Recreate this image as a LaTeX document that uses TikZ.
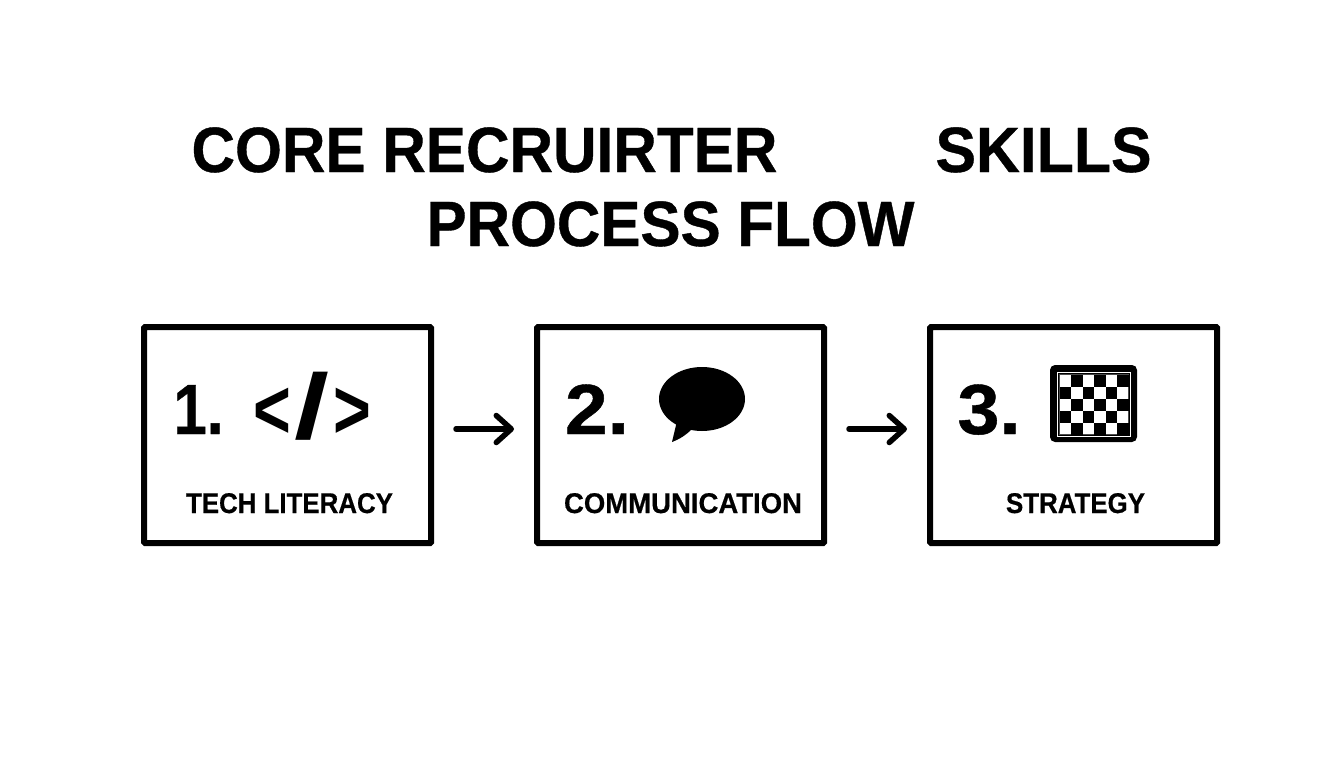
\documentclass[tikz,border=0pt]{standalone}
\usepackage{graphicx}
\usepackage{fontspec}
\setmainfont{Liberation Sans}
\newfontfamily\heavy[FakeBold=0.6]{Liberation Sans Bold}
\usetikzlibrary{arrows.meta}
\newcommand\fitw[2]{\resizebox{#1pt}{\height}{#2}}
\tikzset{
  x=1pt,y=-1pt,
  card/.style={draw=black,line width=6pt,minimum width=287pt,minimum height=216pt,inner sep=0pt,outer sep=0pt,rounded corners=1pt},
  titletext/.style={inner sep=0pt,font=\fontsize{64}{70}\selectfont\heavy,anchor=base,text=black},
  numtext/.style={inner sep=0pt,font=\fontsize{71}{75}\selectfont\heavy,anchor=base,text=black},
  labeltext/.style={inner sep=0pt,font=\fontsize{28.5}{32}\selectfont\heavy,anchor=base,text=black},
  flow/.style={line width=5.5pt,line cap=round,-{Straight Barb[length=15pt,width=27pt,round,line width=5.5pt]},shorten <=25pt,shorten >=23pt},
}
\begin{document}
\begin{tikzpicture}
\useasboundingbox (0,0) rectangle (1344,768);
\fill[white] (0,0) rectangle (1344,768);
\node[titletext] (t1) at (484.5,172) {\fitw{586}{CORE RECRUIRTER}};
\node[titletext] (t2) at (1043.5,172) {\fitw{216}{SKILLS}};
\node[titletext] (t3) at (670.5,246) {\fitw{488}{PROCESS FLOW}};

\node[card] (box1) at (287.5,435) {};
\node[card] (box2) at (680.5,435) {};
\node[card] (box3) at (1073.5,435) {};

\node[numtext] (n1) at (198.5,434) {\fitw{50}{1.}};
\node[numtext] (n2) at (597,434) {\fitw{64}{2.}};
\node[numtext] (n3) at (989,434) {\fitw{63}{3.}};

\node[inner sep=0pt,anchor=base,text=black,font=\fontsize{84}{90}\selectfont\bfseries] (code) at (312.4,438)
  {\scalebox{.77}[1]{<}\kern4pt\raisebox{-.5pt}{\scalebox{1.5}[1.09]{/}}\kern4pt\scalebox{.77}[1]{>}};

\node[labeltext] (l1) at (289.5,513) {\fitw{207}{TECH LITERACY}};
\node[labeltext] (l2) at (683,513) {\fitw{238}{COMMUNICATION}};
\node[labeltext] (l3) at (1075.5,513) {\fitw{139}{STRATEGY}};

\draw[flow] ([yshift=6pt]box1.east) -- ([yshift=6pt]box2.west);
\draw[flow] ([yshift=6pt]box2.east) -- ([yshift=6pt]box3.west);

% speech bubble
\fill[black] (702,399) ellipse [x radius=43,y radius=32];
\fill[black] (677,421) -- (672,442) .. controls (680,439) and (686,435) .. (692,429) -- cycle;

% chess board
\fill[black,rounded corners=5pt] (1050,365) rectangle (1137,442);
\draw[white,line width=1.6pt] (1057.5,372.5) rectangle (1130.5,436.5);
\fill[white] (1059.5,374.5) rectangle (1128.5,434.5);
\draw[black!70,line width=.6pt] (1059.5,374.5) rectangle (1128.5,434.5);
\foreach \r in {0,...,4}{
  \foreach \c in {0,...,5}{
    \pgfmathparse{int(mod(\r+\c,2))}
    \ifnum\pgfmathresult=1
      \fill[black] ({1059.5+\c*11.5},{374.5+\r*12}) rectangle ++(11.5,12);
    \fi
  }
}
\end{tikzpicture}
\end{document}
